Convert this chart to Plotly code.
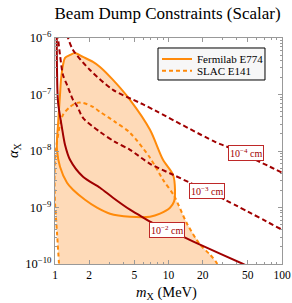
import math
import plotly.graph_objects as go

# ---------------- data ----------------
# Fermilab E774 excluded contour (m_X in MeV, alpha_X)
fermi_m = [1.176, 1.225, 1.356, 1.501, 1.765, 2.161, 2.492, 3.243, 4.580, 6.871,
           8.944, 10.96, 11.41, 11.18, 10.31, 8.418, 6.871, 4.580, 3.052, 2.345,
           1.838, 1.441, 1.276, 1.107, 1.041, 1.041, 1.063, 1.084, 1.107, 1.129, 1.176]
fermi_a = [3.33e-7, 4.43e-7, 5.01e-7, 5.43e-7, 4.62e-7, 3.77e-7, 3.07e-7, 1.81e-7, 8.03e-8, 2.37e-8,
           6.99e-9, 3.80e-9, 2.06e-9, 1.27e-9, 9.92e-10, 7.77e-10, 6.88e-10, 6.88e-10, 7.77e-10, 9.92e-10,
           1.37e-9, 2.06e-9, 2.74e-9, 5.26e-9, 1.05e-8, 1.58e-8, 2.90e-8, 5.34e-8, 9.84e-8, 1.81e-7, 3.33e-7]

# SLAC E141 excluded contour
slac_m = [1.107, 1.084, 1.041, 1.0, 0.99, 1.0, 1.041, 1.107, 1.176, 1.356, 1.563, 1.765,
          2.161, 2.492, 3.379, 4.580, 6.871, 8.944, 11.18, 14.56, 18.95, 23.2, 26.75, 29.6, 1.107]
slac_a = [5.3e-11, 1.02e-10, 3.59e-10, 1.22e-9, 3.10e-9, 6.99e-9, 1.45e-8, 2.90e-8, 4.36e-8, 6.04e-8, 7.10e-8, 7.10e-8,
          6.04e-8, 4.93e-8, 3.28e-8, 2.10e-8, 7.58e-9, 3.10e-9, 1.62e-9, 5.17e-10, 2.20e-10, 1.47e-10, 1.02e-10, 5.3e-11, 5.3e-11]

# decay-length contours
l2_m = [1.035, 1.041, 1.063, 1.152, 1.225, 1.356, 1.765, 2.492, 3.243, 4.580, 5.611, 6.871,
        13.42, 18.95, 44.43, 64.0]
l2_a = [1.2e-6, 2.95e-7, 7.40e-8, 2.57e-8, 1.29e-8, 6.99e-9, 3.50e-9, 2.24e-9, 1.49e-9, 9.14e-10, 7.16e-10, 5.61e-10,
        3.05e-10, 2.20e-10, 1.02e-10, 7.3e-11]

l3_m = [1.055, 1.063, 1.107, 1.176, 1.276, 1.441, 1.563, 1.765, 2.492, 3.379, 4.580, 6.871,
        10.96, 15.47, 31.47, 100.0]
l3_a = [1.2e-6, 1.0e-6, 5.01e-7, 2.22e-7, 1.48e-7, 8.03e-8, 6.29e-8, 3.86e-8, 2.18e-8, 1.45e-8, 1.05e-8, 5.94e-9,
        3.80e-9, 2.74e-9, 1.37e-9, 4.05e-10]

l4_m = [1.28, 1.302, 1.441, 2.034, 3.243, 5.611, 6.871, 25.69, 32.8, 78.43, 100.0]
l4_a = [1.15e-6, 1.0e-6, 6.14e-7, 2.72e-7, 1.21e-7, 7.10e-8, 5.80e-8, 1.45e-8, 1.19e-8, 5.26e-9, 4.12e-9]

# contour labels: (text, m, alpha)
label_text = ["10<sup>−4</sup> cm", "10<sup>−3</sup> cm", "10<sup>−2</sup> cm"]
label_m = [48.2, 21.8, 9.70]
label_a = [9.29e-9, 1.94e-9, 4.05e-10]

legend_names = ["Fermilab E774", "SLAC E141"]

x_ticks = [1, 2, 5, 10, 20, 50, 100]
x_ticktext = ["1", "2", "5", "10", "20", "50", "100"]
x_minor = [3, 4, 6, 7, 8, 9, 30, 40, 60, 70, 80, 90]
y_ticks = [1e-10, 1e-9, 1e-8, 1e-7, 1e-6]
y_ticktext = ["10<sup>−10</sup>", "10<sup>−9</sup>", "10<sup>−8</sup>", "10<sup>−7</sup>", "10<sup>−6</sup>"]
y_minor = [m * 10.0 ** e for e in range(-10, -6) for m in range(2, 10)]

# ---------------- styles ----------------
FILL = "rgb(254,218,184)"
ORANGE = "rgb(255,138,10)"
DARKRED = "rgb(160,0,0)"
SERIF = "Liberation Serif, Times New Roman, serif"
FRAME = "#999999"

fig = go.Figure()
fig.add_trace(go.Scatter(x=slac_m, y=slac_a, mode="lines", fill="toself", fillcolor=FILL,
                         line=dict(width=0), showlegend=False, hoverinfo="skip"))
fig.add_trace(go.Scatter(x=fermi_m, y=fermi_a, mode="lines", fill="toself", fillcolor=FILL,
                         line=dict(width=0), showlegend=False, hoverinfo="skip"))
fig.add_trace(go.Scatter(x=fermi_m, y=fermi_a, mode="lines", name=legend_names[0], showlegend=False,
                         line=dict(color=ORANGE, width=2, shape="spline", smoothing=0.8)))
fig.add_trace(go.Scatter(x=slac_m, y=slac_a, mode="lines", name=legend_names[1], showlegend=False,
                         line=dict(color=ORANGE, width=2, dash="4px,3px", shape="spline", smoothing=0.8)))
fig.add_trace(go.Scatter(x=l2_m, y=l2_a, mode="lines", showlegend=False,
                         line=dict(color=DARKRED, width=2, shape="spline", smoothing=0.8)))
fig.add_trace(go.Scatter(x=l3_m, y=l3_a, mode="lines", showlegend=False,
                         line=dict(color=DARKRED, width=2, dash="5px,3px", shape="spline", smoothing=0.8)))
fig.add_trace(go.Scatter(x=l4_m, y=l4_a, mode="lines", showlegend=False,
                         line=dict(color=DARKRED, width=2, dash="5px,3px", shape="spline", smoothing=0.8)))

for t, m, a in zip(label_text, label_m, label_a):
    fig.add_annotation(x=math.log10(m), y=math.log10(a), xref="x", yref="y", text=t,
                       showarrow=False, bgcolor="white", bordercolor="rgb(190,40,40)", borderwidth=1,
                       borderpad=1, font=dict(family=SERIF, size=10, color=DARKRED))

# legend box (compact, Mathematica-like)
fig.add_shape(type="rect", xref="paper", yref="paper", x0=0.4537, x1=0.9251, y0=0.8142, y1=0.9558,
              fillcolor="#f7f7f7", line=dict(color="black", width=1), layer="above")
for i, (name, dash) in enumerate(zip(legend_names, ["solid", "4px,3px"])):
    yy = [0.9071, 0.8553][i]
    fig.add_shape(type="line", xref="paper", yref="paper", x0=0.4714, x1=0.6035, y0=yy, y1=yy,
                  line=dict(color=ORANGE, width=2, dash=dash), layer="above")
    fig.add_annotation(xref="paper", yref="paper", x=0.6167, y=yy, text=name, showarrow=False,
                       xanchor="left", yanchor="middle", font=dict(family=SERIF, size=11, color="black"))

# axis titles
fig.add_annotation(xref="paper", yref="paper", x=0.493, y=-0.128, text="<i>m</i><sub>X</sub> (MeV)",
                   showarrow=False, xanchor="center", yanchor="middle",
                   font=dict(family=SERIF, size=14.5, color="black"))
fig.add_annotation(xref="paper", yref="paper", x=-0.181, y=0.504, text="<i>α</i><sub>X</sub>",
                   showarrow=False, xanchor="center", yanchor="middle", textangle=-90,
                   font=dict(family=SERIF, size=14.5, color="black"))

axis_common = dict(type="log", showline=True, linecolor=FRAME, linewidth=1, mirror="allticks",
                   ticks="inside", ticklen=4, tickcolor=FRAME, showgrid=False, zeroline=False,
                   automargin=False)

fig.update_xaxes(range=[0, 2], tickmode="array", tickvals=x_ticks, ticktext=x_ticktext,
                 tickfont=dict(family=SERIF, size=11.5, color="black"),
                 minor=dict(tickmode="array", tickvals=x_minor, ticks="inside", ticklen=2,
                            tickcolor=FRAME, showgrid=False),
                 **axis_common)
fig.update_yaxes(range=[-10, -6], tickmode="array", tickvals=y_ticks, ticktext=y_ticktext,
                 tickfont=dict(family=SERIF, size=12.5, color="black"),
                 minor=dict(tickmode="array", tickvals=y_minor, ticks="inside", ticklen=2,
                            tickcolor=FRAME, showgrid=False),
                 **axis_common)

fig.update_layout(
    width=292, height=303,
    margin=dict(l=55, r=10, t=38, b=39, autoexpand=False),
    paper_bgcolor="white", plot_bgcolor="white",
    title=dict(text="Beam Dump Constraints (Scalar)", font=dict(family=SERIF, size=17, color="black"),
               x=0.574, xref="container", xanchor="center", y=1 - 13 / 303, yref="container", yanchor="middle"),
    showlegend=False,
)

fig.write_html("out.html", config={"displayModeBar": False, "staticPlot": True},
               post_script="document.body.style.margin='0';document.body.style.padding='0';")
